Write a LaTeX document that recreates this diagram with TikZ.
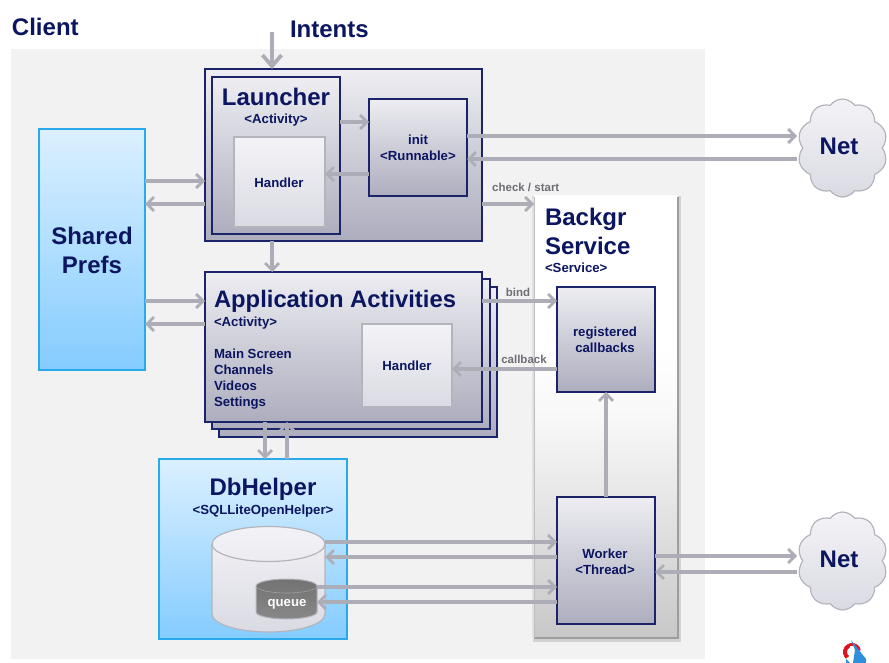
\documentclass[tikz,border=0pt]{standalone}
\usepackage{fontspec}
\setmainfont{Liberation Sans}
\usetikzlibrary{arrows.meta,shapes.symbols}
\definecolor{navy}{HTML}{0B1560}
\definecolor{edgenavy}{HTML}{1B2468}
\definecolor{arrowgray}{HTML}{ADADB7}
\definecolor{labelgray}{HTML}{6E6E76}
\definecolor{pagegray}{HTML}{F2F2F2}
\definecolor{boxtop}{HTML}{EDEDF2}
\definecolor{boxbot}{HTML}{ADADBE}
\definecolor{softtop}{HTML}{F3F3F7}
\definecolor{softbot}{HTML}{DADAE3}
\definecolor{softedge}{HTML}{B4B4BC}
\definecolor{skytop}{HTML}{DBF0FF}
\definecolor{skybot}{HTML}{84CCFF}
\definecolor{skyedge}{HTML}{2AA8EC}
\definecolor{svcA}{HTML}{C8C8C8}
\definecolor{svcB}{HTML}{F8F8F8}
\definecolor{logored}{HTML}{E0141E}
\definecolor{logoblue}{HTML}{2E8FDC}
\pgfdeclareverticalshading{svcshade}{100bp}{color(0bp)=(svcA);color(25bp)=(svcA);color(50bp)=(svcB);color(58bp)=(white);color(100bp)=(white)}
\newcommand{\fs}[1]{\fontsize{#1}{#1}\selectfont\bfseries}
\tikzset{
  boxbase/.style={rectangle,inner sep=0pt,outer sep=0pt,anchor=center},
  navybox/.style={boxbase,draw=edgenavy,line width=1.1pt,top color=boxtop,bottom color=boxbot},
  softbox/.style={boxbase,draw=softedge,line width=1.5pt,top color=softtop,bottom color=softbot},
  bluebox/.style={boxbase,draw=skyedge,line width=1.1pt,top color=skytop,bottom color=skybot},
  title/.style={text=navy,font=\fs{24},inner sep=0pt,outer sep=0pt},
  sub/.style={text=navy,font=\fs{13.2},inner sep=0pt,outer sep=0pt,align=center},
  linklabel/.style={text=labelgray,font=\fs{11.5},inner sep=0pt},
  arr/.style={draw=arrowgray,line width=3.1pt,-{Straight Barb[length=7pt,width=14pt,line width=2.7pt]}},
  bigarr/.style={draw=arrowgray,line width=4.5pt,-{Straight Barb[length=11pt,width=19pt,line width=3.8pt]}},
  netcloud/.style={cloud,cloud puffs=10,cloud puff arc=110,aspect=0.95,draw=softedge,line width=1.2pt,top color=softtop,bottom color=softbot,inner sep=0pt,outer sep=0pt,minimum width=90pt,minimum height=98pt},
}
\begin{document}
\begin{tikzpicture}[x=1pt,y=-1pt]
\useasboundingbox (0,0) rectangle (889,663);
\fill[pagegray] (11,49) rectangle (705,659);

% Service panel
\draw[black!30,line width=3pt,opacity=.25] (533,196) -- (533,638);
\draw[black!40,line width=3pt,opacity=.35] (679,196) -- (679,640) -- (533,640);
\node[boxbase,shading=svcshade,minimum width=144pt,minimum height=442pt] (service) at (606,417) {};
\draw[black!38,line width=1.5pt] (678,197) -- (678,638) -- (534,638);
\draw[black!25,line width=1pt] (534.5,197) -- (534.5,638);

% Boxes
\node[navybox,minimum width=277pt,minimum height=172pt] (launcher) at (343.5,155) {};
\node[navybox,minimum width=128pt,minimum height=157pt] (launcherin) at (276,155.5) {};
\node[softbox,minimum width=91pt,minimum height=90pt] (handlerA) at (279.5,182) {};
\node[navybox,minimum width=98pt,minimum height=97pt] (init) at (418,147.5) {};
\node[bluebox,minimum width=106pt,minimum height=241pt] (shared) at (92,249.5) {};

\node[navybox,minimum width=278pt,minimum height=150pt] (appC) at (358,362) {};
\node[navybox,minimum width=278pt,minimum height=150pt] (appB) at (351,354) {};
\node[navybox,minimum width=277pt,minimum height=150pt] (app) at (343.5,347) {};
\node[softbox,minimum width=90pt,minimum height=83pt] (handlerB) at (407,365.5) {};

\node[bluebox,minimum width=188pt,minimum height=180pt] (db) at (253,549) {};

% Cylinder
\path[draw=softedge,line width=1.2pt,top color=softtop,bottom color=softbot]
  (212,544) -- (212,614) arc[start angle=180,end angle=0,x radius=56.5,y radius=18] -- (325,544) arc[start angle=0,end angle=-180,x radius=56.5,y radius=17.5] -- cycle;
\path[draw=softedge,line width=1.2pt] (212,544) arc[start angle=180,end angle=0,x radius=56.5,y radius=17.5];
\coordinate (cyl) at (325,544);
% Queue cylinder
\path[draw=softedge,line width=1pt,top color=black!55,bottom color=black!47]
  (256,586) -- (256,612) arc[start angle=180,end angle=0,x radius=30.5,y radius=7] -- (317,586) arc[start angle=0,end angle=-180,x radius=30.5,y radius=7] -- cycle;
\path[draw=black!38,line width=.6pt] (256,586) arc[start angle=180,end angle=0,x radius=30.5,y radius=7];
\coordinate (queue) at (317,595);

\node[navybox,minimum width=98pt,minimum height=105pt] (registered) at (606,339.5) {};
\node[navybox,minimum width=98pt,minimum height=127pt] (worker) at (606,560.5) {};

\node[netcloud] (net1) at (842.5,148) {};
\node[netcloud] (net2) at (842.5,561) {};
\coordinate (net1port) at (797,148);
\coordinate (net2port) at (797,561);

\coordinate (intentsEnd) at (272,32);

% Connectors
\draw[bigarr] (intentsEnd) -- (launcher.north -| intentsEnd);
\draw[arr] (shared.east |- 0,181) -- (launcher.west |- 0,181);
\draw[arr] (launcher.west |- 0,204) -- (shared.east |- 0,204);
\draw[arr] (launcherin.east |- 0,122) -- (init.west |- 0,122);
\draw[arr] (init.west |- 0,174) -- (handlerA.east |- 0,174);
\draw[arr] (init.east |- 0,136) -- (net1port |- 0,136);
\draw[arr] (net1port |- 0,159) -- (init.east |- 0,159);
\draw[arr] (launcher.east |- 0,204) -- (service.west |- 0,204);
\draw[arr] (launcher.south -| 272,0) -- (app.north -| 272,0);
\draw[arr] (shared.east |- 0,301) -- (app.west |- 0,301);
\draw[arr] (app.west |- 0,324) -- (shared.east |- 0,324);
\draw[arr] (app.east |- 0,301) -- (registered.west |- 0,301);
\draw[arr] (registered.west |- 0,369) -- (handlerB.east |- 0,369);
\draw[arr] (worker.north) -- (registered.south);
\draw[arr] (app.south -| 265,0) -- (db.north -| 265,0);
\draw[arr] (db.north -| 287,0) -- (app.south -| 287,0);
\draw[arr] (cyl |- 0,542) -- (worker.west |- 0,542);
\draw[arr] (worker.west |- 0,557) -- (cyl |- 0,557);
\draw[arr] (queue |- 0,587) -- (worker.west |- 0,587);
\draw[arr] (worker.west |- 0,602) -- (queue |- 0,602);
\draw[arr] (worker.east |- 0,556) -- (net2port |- 0,556);
\draw[arr] (net2port |- 0,572) -- (worker.east |- 0,572);

% Text
\node[title,anchor=west] (client) at (12,27) {Client};
\node[title,anchor=west] (intents) at (290,29) {Intents};
\node[title] (tlauncher) at (276,97) {Launcher};
\node[sub] (tactivity) at (276,120) {<Activity>};
\node[sub] (thandlerA) at (279,183) {Handler};
\node[sub] (tinit) at (418,148) {init\\[3pt]<Runnable>};
\node[title,align=center] (tshared) at (92,250.5) {Shared\\[5pt]Prefs};
\node[title,anchor=west,font=\fs{23.8}] (tapp) at (214,301) {Application Activities};
\node[sub,anchor=west] (tappsub) at (214,323) {<Activity>};
\node[sub,anchor=north west,align=left] (tlist) at (214,349) {Main Screen\\[2.8pt]Channels\\[2.8pt]Videos\\[2.8pt]Settings};
\node[sub] (thandlerB) at (407,366) {Handler};
\node[title] (tdb) at (263,489) {DbHelper};
\node[sub] (tdbsub) at (263,511) {<SQLLiteOpenHelper>};
\node[sub,text=white] (tqueue) at (287,604) {queue};
\node[title,anchor=north west,align=left] (tsvc) at (545,208) {Backgr\\[5pt]Service};
\node[sub,anchor=west] (tsvcsub) at (545,268) {<Service>};
\node[sub] (treg) at (605,340) {registered\\[3pt]callbacks};
\node[sub] (twork) at (605,562) {Worker\\[3pt]<Thread>};
\node[title] (tnet1) at (839,146) {Net};
\node[title] (tnet2) at (839,559) {Net};
\node[linklabel,anchor=west] (lcheck) at (492,187) {check / start};
\node[linklabel] (lbind) at (518,292) {bind};
\node[linklabel] (lcall) at (524,359) {callback};

% Logo
\draw[logored,line width=4pt] (858.9,650.8) arc[start angle=-10,end angle=-230,radius=7];
\fill[white] (850,646) -- (856,646) -- (856,663) -- (851,663) -- cycle;
\fill[logoblue] (851,640) -- (866,659) -- (866,663) -- (853,663) -- (855,650) -- cycle;
\fill[logoblue] (846,659) -- (850,663) -- (846,663) -- cycle;
\end{tikzpicture}
\end{document}
